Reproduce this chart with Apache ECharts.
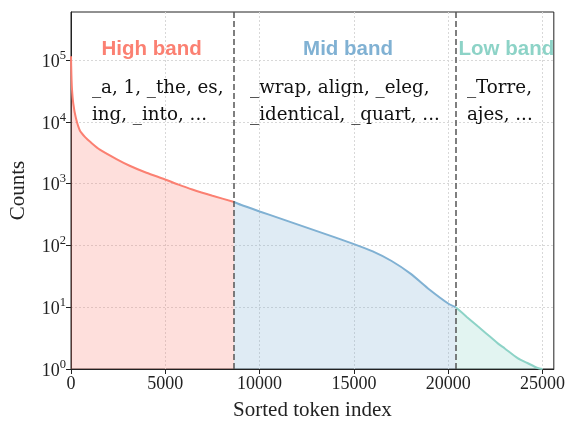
<!DOCTYPE html>
<html>
<head>
<meta charset="utf-8">
<script src="https://cdn.jsdelivr.net/npm/echarts@6/dist/echarts.min.js"></script>
<style>
  html, body { margin: 0; padding: 0; background: #fff; }
  #chart { width: 568px; height: 426px; }
</style>
</head>
<body>
<div id="chart"></div>
<script>
// token counts, split into the three bands
const highX = [0, 20, 50, 120, 260, 475, 790, 1000, 1530, 2410, 3110, 4000, 4960, 5700, 6430, 7500, 8650];
const highY = [115000, 60000, 35000, 20000, 11500, 7200, 5500, 4800, 3550, 2500, 1950, 1500, 1180, 966, 805, 637, 505];
const midX = [8650, 9000, 10000, 11000, 12000, 13000, 14000, 15000, 16000, 17000, 18000, 19000, 20000, 20400];
const midY = [505, 455, 355, 279, 219, 172, 135, 105, 80, 56, 35, 19.4, 11.5, 10];
const lowX = [20400, 21000, 21570, 22000, 22630, 23000, 23680, 24200, 24740, 25000];
const lowY = [10, 6.9, 4.9, 3.8, 2.6, 2.15, 1.5, 1.25, 1.04, 1];

const bandCuts = [8650, 20400];
const xTicks = [0, 5000, 10000, 15000, 20000, 25000];
const yTicks = [1, 10, 100, 1000, 10000, 100000];

const bandNames = ['High band', 'Mid band', 'Low band'];
const bandColors = ['#FB8072', '#80B1D3', '#8DD3C7'];
const bandTokens = [
  ['_a, 1, _the, es,', 'ing, _into, ...'],
  ['_wrap, align, _eleg,', '_identical, _quart, ...'],
  ['_Torre,', 'ajes, ...']
];
// annotation anchors in data units
const titleX = [4272, 14689, 23085];
const tokenX = [1108, 9494, 20992];
const titleY = 1.5e5;
const tokenY = [3.5e4, 1.3e4];

const serif = 'Liberation Serif';
const textSerif = 'DejaVu Serif';

const zip = (xs, ys) => xs.map((x, i) => [x, ys[i]]);

const bandSeries = (i, xs, ys) => {
  const marks = [{
    name: bandNames[i],
    coord: [titleX[i], titleY],
    label: {
      align: 'center',
      color: bandColors[i],
      fontFamily: 'Liberation Sans',
      fontWeight: 'bold',
      fontSize: 20.5
    }
  }];
  bandTokens[i].forEach((t, j) => {
    marks.push({
      name: t,
      coord: [tokenX[i], tokenY[j]],
      label: {
        align: 'left',
        color: '#111',
        fontFamily: textSerif,
        fontSize: 18.3
      }
    });
  });
  return {
    type: 'line',
    data: zip(xs, ys),
    showSymbol: false,
    smooth: 0.25,
    lineStyle: { color: bandColors[i], width: 2 },
    itemStyle: { color: bandColors[i] },
    areaStyle: { color: bandColors[i], opacity: 0.25, origin: 'start' },
    z: 3,
    markPoint: {
      symbol: 'circle',
      symbolSize: 1,
      itemStyle: { color: 'rgba(0,0,0,0)' },
      label: {
        show: true,
        position: 'inside',
        verticalAlign: 'middle',
        formatter: p => p.name
      },
      data: marks,
      animation: false
    }
  };
};

const series = [
  bandSeries(0, highX, highY),
  bandSeries(1, midX, midY),
  bandSeries(2, lowX, lowY)
];
series[0].markLine = {
  symbol: 'none',
  silent: true,
  label: { show: false },
  lineStyle: { color: '#555', type: [6, 3], width: 1.5 },
  data: bandCuts.map(v => ({ xAxis: v })),
  animation: false
};

const chart = echarts.init(document.getElementById('chart'));
chart.setOption({
  animation: false,
  grid: {
    left: 71, right: 11, top: 12, bottom: 53,
    show: true, borderColor: '#222', borderWidth: 1
  },
  xAxis: {
    type: 'value',
    min: 0,
    max: 25600,
    name: 'Sorted token index',
    nameLocation: 'middle',
    nameGap: 31,
    nameTextStyle: { fontFamily: serif, fontSize: 21, color: '#222' },
    axisLine: { show: true, onZero: false, lineStyle: { color: '#222', width: 1 } },
    axisTick: { show: true, length: 5, lineStyle: { color: '#222' }, customValues: xTicks },
    axisLabel: {
      fontFamily: serif, fontSize: 18, color: '#222', margin: 6,
      customValues: xTicks,
      formatter: v => String(v)
    },
    splitLine: { show: true, lineStyle: { color: '#d8d8d8', type: [2, 2], width: 1 } }
  },
  yAxis: {
    type: 'log',
    logBase: 10,
    min: 1,
    max: 6e5,
    name: 'Counts',
    nameLocation: 'middle',
    nameGap: 42,
    nameTextStyle: { fontFamily: serif, fontSize: 21, color: '#222' },
    axisLine: { show: true, lineStyle: { color: '#222', width: 1 } },
    axisTick: { show: true, length: 5, lineStyle: { color: '#222' }, customValues: yTicks },
    axisLabel: {
      customValues: yTicks,
      margin: 5,
      formatter: v => '{b|10}{s|' + Math.round(Math.log10(v)) + '}',
      rich: {
        b: { fontFamily: serif, fontSize: 18, color: '#222', lineHeight: 22, verticalAlign: 'bottom' },
        s: { fontFamily: serif, fontSize: 12.5, color: '#222', lineHeight: 12, verticalAlign: 'top' }
      }
    },
    splitLine: { show: true, lineStyle: { color: '#d8d8d8', type: [2, 2], width: 1 } }
  },
  series: series
});
</script>
</body>
</html>
